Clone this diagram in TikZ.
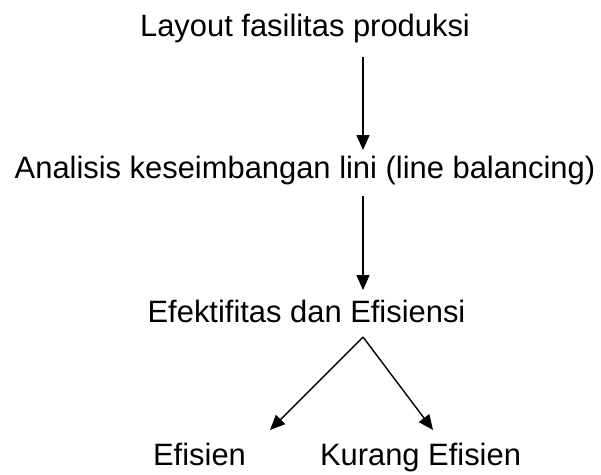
\documentclass[tikz,border=0pt]{standalone}
\usepackage{fontspec}
\setmainfont{Liberation Sans}
\usetikzlibrary{arrows.meta}
\begin{document}
\begin{tikzpicture}[x=1pt,y=-1pt,
  label/.style={anchor=base,inner sep=0pt,font=\fontsize{30.9}{37}\selectfont},
  flow/.style={line width=1.4pt,-{Triangle[length=15pt,width=13pt]}}]
\useasboundingbox (0,0) rectangle (601,474);
% text levels
\node[label] (layout) at (305,36) {Layout fasilitas produksi};
\node[label] (analisis) at (305,178) {Analisis keseimbangan lini (line balancing)};
\node[label] (efektif) at (306.5,322) {Efektifitas dan Efisiensi};
\node[label] (efisien) at (199.5,465) {Efisien};
\node[label] (kurang) at (420.5,465) {Kurang Efisien};
% arrow end points
\coordinate (a1s) at (363,57);
\coordinate (a1e) at (363,150);
\coordinate (a2s) at (363,196);
\coordinate (a2e) at (363,290);
\coordinate (apex) at (363,337);
\coordinate (lt) at (270,430);
\coordinate (rt) at (433,430);
% connectors
\draw[flow] (a1s) -- (a1e);
\draw[flow] (a2s) -- (a2e);
\draw[flow] (apex) -- (lt);
\draw[flow] (apex) -- (rt);
\end{tikzpicture}
\end{document}
